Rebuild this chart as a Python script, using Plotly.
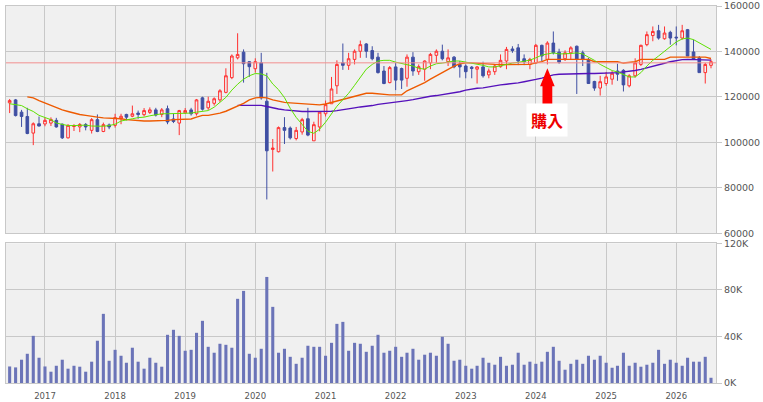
import pandas as pd
import plotly.graph_objects as go

# ---------------- data (monthly, Jul 2016 - Jul 2026) ----------------
months = pd.date_range("2016-07-01", periods=121, freq="MS")

opens = [117.4, 118.7, 113.3, 111.4, 104.1, 108.2, 108.1, 108.5, 109.7, 108.0,
         102.0, 107.0, 106.8, 107.9, 105.3, 110.0, 104.8, 107.7, 107.5, 110.4,
         112.3, 111.5, 112.9, 112.2, 113.2, 114.3, 112.3, 114.8, 110.3, 108.5,
         113.0, 114.3, 112.6, 119.6, 115.2, 117.2, 118.7, 122.0, 128.5, 137.2,
         139.7, 135.5, 132.4, 135.0, 118.1, 96.9, 95.9, 106.5, 106.3, 101.7,
         104.6, 110.4, 100.7, 106.8, 112.6, 117.0, 124.9, 135.0, 133.9, 136.5,
         140.1, 143.3, 140.4, 137.5, 131.4, 126.3, 133.2, 132.5, 128.2, 137.5,
         131.1, 132.2, 135.0, 138.3, 140.1, 135.5, 137.5, 134.3, 133.6, 133.1,
         132.2, 133.2, 129.7, 131.1, 133.3, 135.8, 141.1, 141.6, 136.8, 134.3,
         135.0, 142.7, 136.5, 143.7, 139.7, 136.8, 139.4, 142.3, 139.4, 136.5,
         126.8, 123.9, 125.9, 127.8, 131.4, 131.7, 124.9, 129.3, 134.3, 143.0,
         147.0, 149.1, 145.6, 148.4, 146.3, 145.9, 149.6, 139.8, 137.2, 130.7,
         133.9]
highs = [119.1, 119.1, 114.3, 115.2, 108.8, 111.4, 110.9, 111.0, 110.8, 108.3,
         108.0, 108.0, 108.5, 108.5, 110.7, 112.3, 108.7, 108.3, 112.6, 112.6,
         112.6, 116.2, 114.0, 115.1, 115.4, 115.2, 115.1, 116.2, 112.6, 114.3,
         115.1, 115.2, 119.1, 120.1, 120.1, 119.8, 123.4, 132.6, 138.7, 148.0,
         140.9, 135.8, 137.0, 139.4, 130.6, 101.5, 107.0, 111.1, 107.0, 106.8,
         110.8, 115.2, 109.1, 113.3, 118.4, 128.8, 136.1, 143.5, 139.4, 140.9,
         144.8, 143.7, 142.3, 139.4, 133.6, 133.6, 135.0, 132.9, 138.7, 139.7,
         134.3, 136.1, 139.4, 140.9, 143.0, 140.9, 138.0, 135.8, 134.3, 133.6,
         133.6, 135.5, 132.5, 134.3, 138.7, 142.0, 142.3, 143.3, 138.7, 137.2,
         143.3, 143.0, 144.5, 148.8, 141.2, 140.5, 142.3, 142.6, 140.4, 137.2,
         127.1, 129.3, 131.0, 131.4, 134.6, 132.2, 130.0, 137.0, 143.0, 148.8,
         151.0, 151.7, 151.0, 149.1, 151.0, 151.7, 149.9, 145.2, 138.0, 135.0,
         136.5]
lows = [112.9, 111.4, 106.8, 103.6, 98.8, 107.0, 107.1, 107.2, 106.5, 101.5,
        101.7, 105.0, 104.5, 105.3, 103.9, 104.5, 104.5, 105.8, 106.5, 108.0,
        109.7, 111.1, 110.4, 111.4, 112.5, 111.4, 111.1, 108.0, 108.5, 103.2,
        112.5, 111.8, 111.8, 114.0, 114.3, 116.2, 117.8, 121.6, 127.8, 136.5,
        126.3, 128.8, 130.7, 118.8, 74.9, 87.2, 95.6, 99.3, 101.3, 100.9,
        103.4, 102.7, 100.7, 104.9, 111.4, 117.0, 121.3, 131.9, 131.9, 134.3,
        137.2, 137.2, 136.1, 130.3, 125.6, 126.0, 123.0, 123.5, 124.5, 129.3,
        129.7, 127.1, 132.2, 135.0, 136.1, 133.6, 132.6, 128.5, 128.2, 128.2,
        125.9, 128.5, 128.2, 129.7, 132.9, 132.2, 139.4, 134.0, 134.0, 132.2,
        134.5, 135.8, 134.3, 138.7, 134.6, 135.8, 136.5, 121.3, 133.6, 125.9,
        122.7, 120.6, 124.9, 125.4, 127.1, 122.4, 124.2, 128.5, 133.6, 142.3,
        144.5, 145.2, 145.2, 143.0, 142.7, 145.2, 138.0, 136.5, 130.7, 125.9,
        132.6]
closes = [118.4, 111.8, 111.4, 103.9, 108.2, 107.2, 109.7, 110.1, 106.8, 102.0,
          107.5, 107.3, 107.9, 106.8, 110.0, 104.8, 107.8, 106.8, 110.9, 111.5,
          111.1, 112.6, 112.3, 114.0, 114.3, 112.0, 114.3, 109.0, 109.2, 114.0,
          114.0, 112.6, 118.7, 114.6, 118.1, 119.2, 122.7, 129.3, 138.0, 138.7,
          134.6, 133.3, 135.5, 119.6, 96.3, 97.5, 106.5, 105.3, 102.0, 105.3,
          110.0, 103.2, 107.8, 113.3, 116.6, 123.5, 134.3, 133.9, 136.8, 140.1,
          143.0, 140.1, 136.8, 130.7, 125.9, 132.9, 127.4, 127.4, 137.5, 131.4,
          133.3, 135.8, 138.7, 140.1, 136.8, 137.2, 133.2, 133.2, 131.1, 132.5,
          133.2, 129.3, 131.4, 133.6, 136.1, 140.9, 140.4, 135.8, 135.5, 136.5,
          142.7, 138.0, 143.7, 139.4, 135.3, 139.4, 141.6, 136.5, 136.5, 125.9,
          123.9, 126.7, 128.8, 130.4, 130.0, 125.3, 129.3, 135.0, 142.7, 147.4,
          148.8, 145.9, 148.1, 145.9, 146.0, 149.1, 138.0, 136.5, 130.7, 134.3,
          135.5]

ma_short = [117.0, 116.5, 116.2, 114.8, 113.6, 111.9, 111.1, 110.0, 108.5, 107.8,
            107.4, 107.4, 107.5, 107.6, 107.2, 107.1, 107.1, 107.4, 108.0, 109.4,
            110.0, 110.4, 110.9, 111.1, 111.7, 112.3, 112.6, 112.6, 112.6, 112.6,
            112.6, 112.9, 113.3, 113.7, 114.0, 115.5, 117.6, 119.8, 123.0, 125.6,
            127.8, 129.3, 130.3, 130.1, 129.3, 125.7, 123.2, 119.7, 115.0, 111.0,
            107.9, 104.9, 104.0, 105.8, 108.9, 112.6, 115.9, 118.8, 121.6, 125.1,
            128.7, 132.2, 134.3, 135.8, 136.1, 136.1, 135.3, 134.8, 134.3, 133.6,
            132.6, 132.2, 133.6, 134.6, 134.9, 135.3, 135.8, 135.8, 135.3, 135.0,
            134.3, 133.9, 133.2, 133.2, 133.7, 134.4, 134.9, 135.2, 135.6, 136.2,
            137.2, 138.4, 138.9, 139.4, 138.9, 138.9, 139.1, 139.4, 138.9, 137.5,
            136.1, 134.3, 132.9, 131.6, 131.0, 129.7, 128.8, 128.8, 130.7, 133.6,
            136.1, 138.0, 140.1, 142.3, 144.2, 145.5, 145.9, 145.2, 143.7, 142.3,
            140.9]
ma_mid = [None, None, None, 120.0, 119.6, 118.4, 117.4, 116.2, 115.2, 114.3,
          113.6, 112.9, 112.3, 111.9, 111.4, 111.1, 110.8, 110.7, 110.7, 110.4,
          110.0, 109.7, 109.7, 109.4, 109.4, 109.4, 109.7, 109.7, 110.0, 110.0,
          110.0, 110.3, 111.1, 111.9, 111.9, 112.3, 112.9, 113.7, 114.8, 115.9,
          117.2, 118.7, 119.6, 119.8, 119.6, 118.7, 118.0, 117.6, 117.4, 117.2,
          116.9, 116.6, 116.5, 116.5, 116.9, 117.6, 118.1, 118.7, 119.4, 120.3,
          121.0, 121.6, 121.6, 121.3, 120.9, 120.9, 120.9, 120.9, 122.7, 123.9,
          124.9, 126.3, 127.8, 129.3, 130.7, 132.4, 133.6, 134.6, 135.0, 135.0,
          134.8, 134.6, 134.3, 134.3, 134.2, 134.2, 134.2, 134.2, 134.2, 134.3,
          135.0, 135.5, 136.5, 136.5, 136.5, 136.5, 136.5, 136.5, 136.5, 136.5,
          135.5, 135.5, 135.5, 135.5, 135.5, 134.9, 135.1, 135.5, 136.5, 136.5,
          136.5, 136.5, 136.5, 137.5, 137.5, 137.5, 137.5, 137.5, 137.5, 137.5,
          136.9]
ma_long = [None] * 39 + [
    116.3, 116.3, 116.3, 116.3, 116.3, 115.8, 115.1, 114.7, 114.3, 114.0,
    113.7, 113.6, 113.6, 113.6, 113.6, 113.6, 113.7, 114.0, 114.5, 114.9,
    115.2, 115.6, 115.8, 116.2, 116.7, 117.0, 117.4, 117.6, 117.9, 118.4,
    118.8, 119.4, 119.8, 120.3, 120.6, 121.0, 121.4, 121.9, 122.3, 123.0,
    123.5, 123.8, 124.0, 124.5, 125.0, 125.3, 125.6, 125.8, 126.2, 126.7,
    127.1, 127.7, 128.3, 129.0, 129.7, 130.0, 130.1, 130.3, 130.3, 130.3,
    130.3, 130.3, 130.3, 130.4, 130.6, 130.7, 130.9, 131.1, 131.6, 132.1,
    132.7, 133.5, 134.1, 134.8, 135.5, 136.1, 136.4, 136.5, 136.5, 136.5,
    136.5, 136.2]

volume_k = [14.2, 13.4, 20.0, 25.1, 40.5, 21.7, 14.2, 9.7, 14.8, 20.0,
            12.3, 14.8, 14.0, 9.7, 18.3, 36.3, 59.4, 19.1, 28.5, 23.4,
            17.4, 30.3, 18.3, 12.3, 21.7, 17.4, 14.0, 41.4, 45.7, 40.5,
            27.7, 28.5, 43.1, 53.4, 31.1, 26.0, 33.7, 32.8, 30.3, 72.3,
            79.1, 25.1, 21.7, 29.4, 91.1, 65.4, 26.0, 29.4, 22.5, 16.5,
            21.7, 32.0, 31.1, 31.1, 23.4, 34.5, 50.8, 52.5, 27.7, 34.5,
            33.7, 26.8, 32.0, 41.4, 26.0, 27.7, 31.1, 22.5, 26.0, 29.4,
            20.0, 24.3, 26.0, 23.4, 39.7, 33.7, 19.1, 20.0, 14.8, 12.3,
            14.8, 21.7, 17.4, 15.7, 22.5, 14.8, 15.7, 26.0, 15.7, 18.3,
            16.5, 18.3, 26.8, 31.1, 19.1, 11.4, 16.5, 20.0, 16.5, 23.4,
            20.0, 23.4, 17.4, 13.1, 14.8, 26.0, 14.8, 17.4, 14.0, 15.7,
            17.4, 28.5, 16.5, 20.0, 17.4, 14.8, 21.7, 18.3, 18.3, 22.5,
            4.5]

price_ticks = [60000, 80000, 100000, 120000, 140000, 160000]
vol_ticks = [0, 40000, 80000, 120000]
vol_tick_labels = ["0K", "40K", "80K", "120K"]
buy_price = 135000
buy_month = "2024-03-01"
buy_label = "購入"
arrow_tip_price = 132600
label_price = 109700

K = 1000
O = [v * K for v in opens]
H = [v * K for v in highs]
L = [v * K for v in lows]
C = [v * K for v in closes]
ma1 = [None if v is None else v * K for v in ma_short]
ma2 = [None if v is None else v * K for v in ma_mid]
ma3 = [None if v is None else v * K for v in ma_long]
vol = [v * K for v in volume_k]

# ---------------- figure ----------------
X_RANGE = ["2016-06-12", "2026-07-27"]
PRICE_DOM = [0.397, 1.0]
VOL_DOM = [0.0, 0.3706]
GRID = "#c8c8c8"
TXT = "#555555"
FONT = "DejaVu Sans"

fig = go.Figure()
fig.add_trace(go.Scatter(x=months, y=ma3, mode="lines", line=dict(color="#5511bb", width=1.4),
                         xaxis="x", yaxis="y", hoverinfo="skip"))
fig.add_trace(go.Scatter(x=months, y=ma2, mode="lines", line=dict(color="#ee5a00", width=1.4),
                         xaxis="x", yaxis="y", hoverinfo="skip"))
fig.add_trace(go.Scatter(x=months, y=ma1, mode="lines", line=dict(color="#5ee000", width=1),
                         xaxis="x", yaxis="y", hoverinfo="skip"))
fig.add_trace(go.Candlestick(
    x=months, open=O, high=H, low=L, close=C, xaxis="x", yaxis="y",
    increasing=dict(line=dict(color="#ff3030", width=1), fillcolor="#f0f0f0"),
    decreasing=dict(line=dict(color="#3f4fa3", width=1), fillcolor="#3f4fa3"),
    whiskerwidth=0,
))
fig.add_trace(go.Bar(x=months, y=vol, xaxis="x2", yaxis="y2",
                     marker=dict(color="#6b74b8", line=dict(width=0)),
                     width=16 * 86400000))

axis_common = dict(showgrid=True, gridcolor=GRID, gridwidth=1, showline=True, mirror=True,
                   linecolor=GRID, linewidth=1, zeroline=False, automargin=False,
                   ticklabeloverflow="allow")

fig.update_layout(
    width=763, height=402,
    margin=dict(l=6, r=47, t=6, b=19),
    paper_bgcolor="white", plot_bgcolor="#f0f0f0",
    showlegend=False, hovermode=False,
    font=dict(family=FONT, color=TXT, size=9.5),
    xaxis=dict(domain=[0, 1], range=X_RANGE, type="date", anchor="y", showticklabels=False,
               dtick="M12", tick0="2017-01-01", ticks="", rangeslider=dict(visible=False),
               **axis_common),
    xaxis2=dict(domain=[0, 1], range=X_RANGE, type="date", anchor="y2", matches="x",
                dtick="M12", tick0="2017-01-01", tickformat="%Y", ticks="",
                ticklabelstandoff=5, tickfont=dict(size=8.5, family=FONT, color=TXT),
                **axis_common),
    yaxis=dict(domain=PRICE_DOM, range=[60000, 160000], side="right", anchor="x",
               tickvals=price_ticks, tickformat="d", ticks="outside", ticklen=5,
               tickcolor=GRID, tickfont=dict(size=9.5, family=FONT, color=TXT),
               **axis_common),
    yaxis2=dict(domain=VOL_DOM, range=[0, 120000], side="right", anchor="x2",
                tickvals=vol_ticks, ticktext=vol_tick_labels, ticks="outside", ticklen=5,
                tickcolor=GRID, tickfont=dict(size=9.5, family=FONT, color=TXT),
                **axis_common),
)

# purchase price line
fig.add_shape(type="line", xref="x domain", yref="y", x0=0, x1=1, y0=buy_price, y1=buy_price,
              line=dict(color="#f29090", width=1), layer="above")

# purchase arrow (pixel-sized polygon placed at the purchase month)
t0 = pd.Timestamp(X_RANGE[0]).value
t1 = pd.Timestamp(X_RANGE[1]).value
PW, PH = 710.0, 377.0
ax = (pd.Timestamp(buy_month).value - t0) / (t1 - t0)
ay = PRICE_DOM[0] + (arrow_tip_price - 60000) / 100000 * (PRICE_DOM[1] - PRICE_DOM[0])
pts = [(0, 0), (7.3, -18), (4.9, -18), (4.9, -40), (-4.9, -40), (-4.9, -18), (-7.3, -18)]
path = "M " + " L ".join(f"{ax + dx / PW:.5f},{ay + dy / PH:.5f}" for dx, dy in pts) + " Z"
fig.add_shape(type="path", xref="paper", yref="paper", path=path,
              fillcolor="#ff0000", line=dict(width=0), layer="above")

fig.add_annotation(x=buy_month, y=label_price, xref="x", yref="y", text=f"<b>{buy_label}</b>",
                   showarrow=False, bgcolor="white", borderpad=4,
                   font=dict(family="Noto Sans CJK JP", size=16, color="#ee0000"))

fig.write_html("out.html")
